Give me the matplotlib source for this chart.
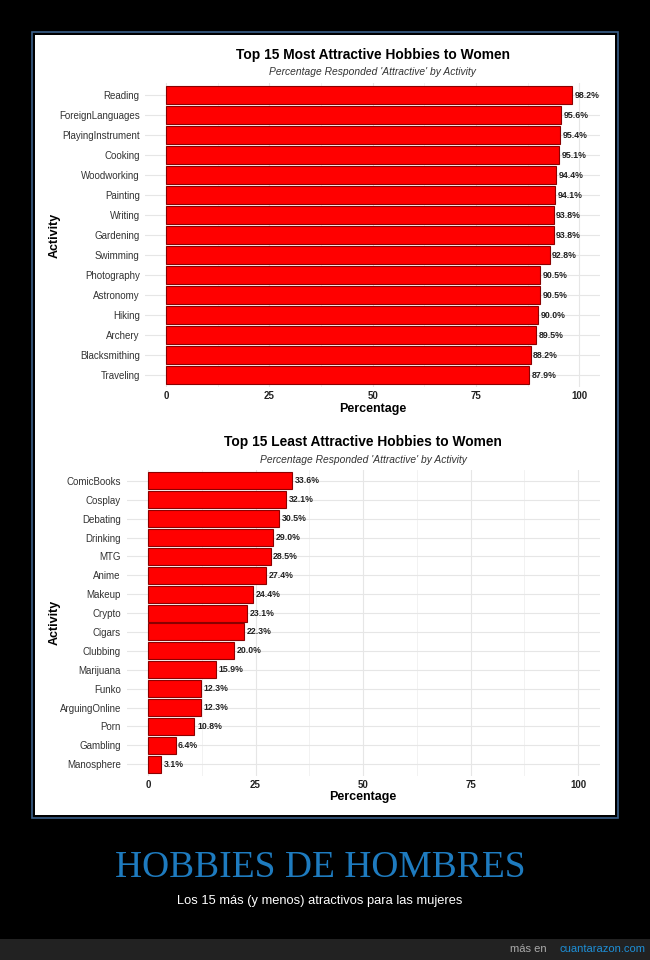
import matplotlib
matplotlib.use("Agg")
import matplotlib.pyplot as plt
from matplotlib.patches import Rectangle

plt.rcParams['font.family'] = ['Liberation Sans', 'DejaVu Sans']

top_labels = ["Reading", "ForeignLanguages", "PlayingInstrument", "Cooking", "Woodworking",
              "Painting", "Writing", "Gardening", "Swimming", "Photography", "Astronomy",
              "Hiking", "Archery", "Blacksmithing", "Traveling"]
top_values = [98.2, 95.6, 95.4, 95.1, 94.4, 94.1, 93.8, 93.8, 92.8, 90.5, 90.5, 90.0, 89.5, 88.2, 87.9]

bot_labels = ["ComicBooks", "Cosplay", "Debating", "Drinking", "MTG", "Anime", "Makeup",
              "Crypto", "Cigars", "Clubbing", "Marijuana", "Funko", "ArguingOnline", "Porn",
              "Gambling", "Manosphere"]
bot_values = [33.6, 32.1, 30.5, 29.0, 28.5, 27.4, 24.4, 23.1, 22.3, 20.0, 15.9, 12.3, 12.3, 10.8, 6.4, 3.1]

x_ticks = [0, 25, 50, 75, 100]
titles = ["Top 15 Most Attractive Hobbies to Women", "Top 15 Least Attractive Hobbies to Women"]
subtitle = "Percentage Responded 'Attractive' by Activity"

W, H = 650, 960
fig = plt.figure(figsize=(6.5, 9.6), dpi=100)
fig.patch.set_facecolor('black')

def fx(px):
    return px / W

def fy(py):
    return 1 - py / H

# white panel with border
bg = fig.add_axes([0, 0, 1, 1])
bg.set_xlim(0, W)
bg.set_ylim(H, 0)
bg.axis('off')
bg.add_patch(Rectangle((32, 32), 586, 786, facecolor='none', edgecolor='#3a5f8a', lw=1.2))
bg.add_patch(Rectangle((35, 35), 580, 780, facecolor='white', edgecolor='none'))
bg.add_patch(Rectangle((0, 939), 650, 21, facecolor='#222222', edgecolor='none'))

def draw(labels, values, left_px, right_px, top_px, bot_px, title, title_y, sub_y, xl_y, ylab_x):
    ax = fig.add_axes([fx(left_px), fy(bot_px), fx(right_px - left_px), (bot_px - top_px) / H])
    ax.set_facecolor('white')
    n = len(labels)
    ypos = list(range(n))
    ax.barh(ypos, values, height=0.9, color='#ff0000', edgecolor='#8b0000', linewidth=0.8, zorder=3)
    for y, v in zip(ypos, values):
        ax.text(v + 0.6, y, f"{v:.1f}%", va='center', ha='left', fontsize=6.3,
                fontweight='bold', color='#222222', zorder=4)
    ax.set_xlim(-5, 105)
    ax.set_ylim(n - 0.4, -0.6)
    ax.set_yticks(ypos)
    ax.set_yticklabels(labels, fontsize=7, color='#333333')
    ax.set_xticks(x_ticks)
    ax.set_xticklabels([str(t) for t in x_ticks], fontsize=7, fontweight='bold', color='#222222')
    ax.set_xticks([12.5, 37.5, 62.5, 87.5], minor=True)
    ax.tick_params(axis='both', which='both', length=0)
    ax.tick_params(axis='y', pad=4)
    ax.tick_params(axis='x', pad=3)
    ax.grid(True, which='major', color='#e6e6e6', lw=0.8, zorder=0)
    ax.grid(True, which='minor', axis='x', color='#f0f0f0', lw=0.6, zorder=0)
    for s in ax.spines.values():
        s.set_visible(False)
    fig.text(0.5 * (left_px + right_px) / W, fy(title_y), title, ha='center', va='center',
             fontsize=9.9, fontweight='bold', color='black')
    fig.text(0.5 * (left_px + right_px) / W, fy(sub_y), subtitle, ha='center', va='center',
             fontsize=7.4, style='italic', color='#333333')
    fig.text(0.5 * (left_px + right_px) / W, fy(xl_y), "Percentage", ha='center', va='center',
             fontsize=9, fontweight='bold', color='black')
    fig.text(fx(ylab_x), fy(0.5 * (top_px + bot_px)), "Activity", ha='center', va='center',
             rotation=90, fontsize=9, fontweight='bold', color='black')
    return ax

draw(top_labels, top_values, 145.3, 600, 83, 387, titles[0], 55, 72, 409, 55)
draw(bot_labels, bot_values, 126.5, 599.5, 469.5, 775.5, titles[1], 442, 460, 797, 55)

fig.text(fx(320), fy(868), "HOBBIES DE HOMBRES", ha='center', va='center', fontsize=27,
         family=['Liberation Serif', 'DejaVu Serif'], color='#1e7bbf')
fig.text(fx(320), fy(901), "Los 15 más (y menos) atractivos para las mujeres", ha='center', va='center',
         fontsize=9.3, color='white')
fig.text(fx(510), fy(949), "más en", ha='left', va='center', fontsize=8, color='#aaaaaa')
fig.text(fx(645), fy(949), "cuantarazon.com", ha='right', va='center', fontsize=8, color='#1e8fd6')

fig.savefig("out.png", dpi=100, facecolor=fig.get_facecolor())
